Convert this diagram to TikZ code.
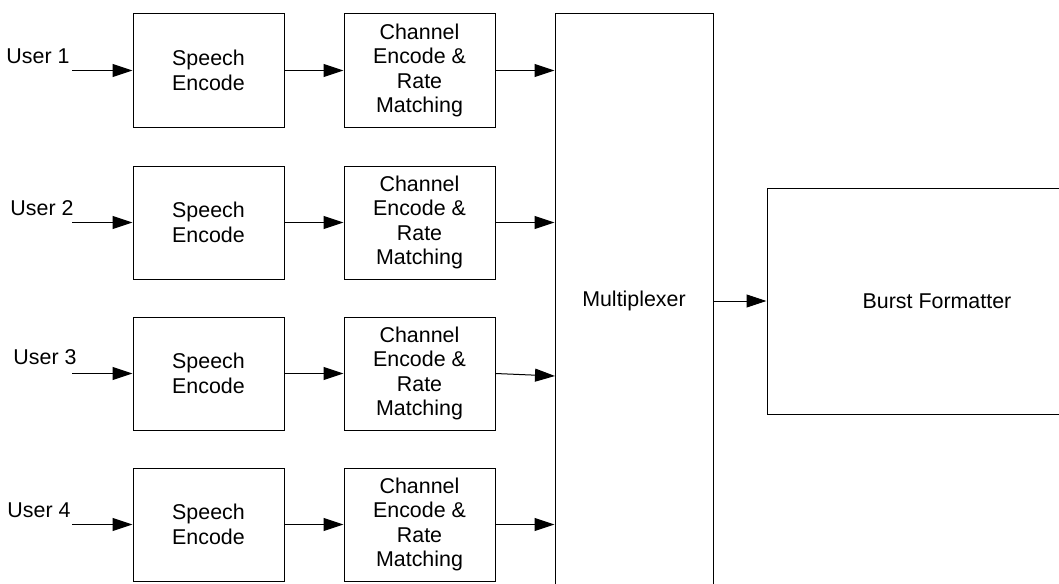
\documentclass[tikz,border=0pt]{standalone}
\usepackage{fontspec}
\setmainfont{Liberation Sans}
\usetikzlibrary{arrows.meta}

\begin{document}
\begin{tikzpicture}[x=0.5pt, y=-0.5pt, >={Triangle[length=10pt,width=6.5pt]}, line width=0.5pt,
  font=\fontsize{10.7pt}{12.2pt}\selectfont,
  block/.style={draw, align=center, inner sep=0pt, minimum width=75.5pt, minimum height=56.5pt},
  user/.style={anchor=base east, inner sep=0pt}]
  \useasboundingbox (0,0) rectangle (1059,583);
  % four user chains
  \node[block] (sp1) at (208.5,70.5) {Speech\\Encode};
  \node[block] (ch1) at (419.5,70.5) {Channel\\Encode \&\\Rate\\Matching};
  \node[block] (sp2) at (208.5,222.5) {Speech\\Encode};
  \node[block] (ch2) at (419.5,222.5) {Channel\\Encode \&\\Rate\\Matching};
  \node[block] (sp3) at (208.5,373.5) {Speech\\Encode};
  \node[block] (ch3) at (419.5,373.5) {Channel\\Encode \&\\Rate\\Matching};
  \node[block] (sp4) at (208.5,524.5) {Speech\\Encode};
  \node[block] (ch4) at (419.5,524.5) {Channel\\Encode \&\\Rate\\Matching};
  % mux and formatter
  \node[block, minimum width=79pt, minimum height=287pt] (mux) at (634,301) {Multiplexer};
  \node[block, minimum width=170pt, minimum height=113pt] (bf) at (937,301) {Burst Formatter};
  % inputs
  \coordinate (u1) at (72,70.5);
  \coordinate (u2) at (72,222.5);
  \coordinate (u3) at (72,373.5);
  \coordinate (u4) at (72,524.5);
  \node[user] (l1) at (70,63.5) {User 1};
  \node[user] (l2) at (74,215) {User 2};
  \node[user] (l3) at (77,364) {User 3};
  \node[user] (l4) at (71,517) {User 4};
  \draw[->] (u1) -- (sp1.west);
  \draw[->] (u2) -- (sp2.west);
  \draw[->] (u3) -- (sp3.west);
  \draw[->] (u4) -- (sp4.west);
  \draw[->] (sp1.east) -- (ch1.west);
  \draw[->] (sp2.east) -- (ch2.west);
  \draw[->] (sp3.east) -- (ch3.west);
  \draw[->] (sp4.east) -- (ch4.west);
  \coordinate (m3) at (555,376);
  \draw[->] (ch1.east) -- (ch1.east -| mux.west);
  \draw[->] (ch2.east) -- (ch2.east -| mux.west);
  \draw[->] (ch3.east) -- (m3);
  \draw[->] (ch4.east) -- (ch4.east -| mux.west);
  \draw[->] (mux.east |- bf.west) -- (bf.west);
\end{tikzpicture}
\end{document}
